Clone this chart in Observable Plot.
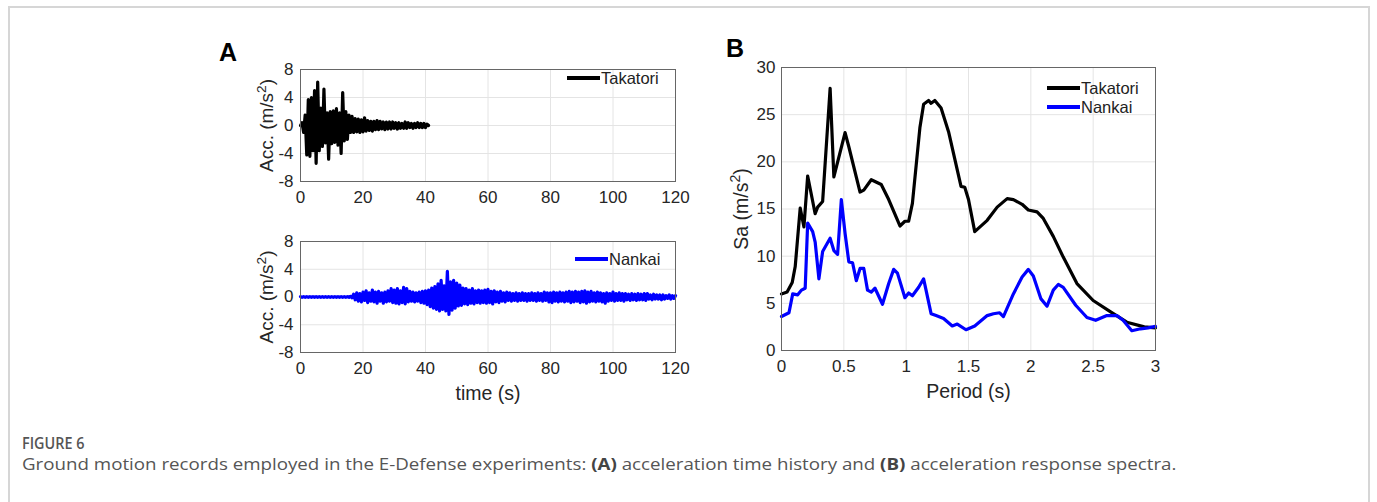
<!DOCTYPE html>
<html><head><meta charset="utf-8">
<script src="https://cdn.jsdelivr.net/npm/d3@7"></script>
<script src="https://cdn.jsdelivr.net/npm/@observablehq/plot@0.6"></script>
<style>
html,body{margin:0;padding:0;background:#fff;}
body{width:1377px;height:502px;overflow:hidden;position:relative;font-family:"Liberation Sans",Arial,sans-serif;}
#border{position:absolute;left:8px;top:6px;width:1362px;height:520px;border:2px solid #d6d6d6;box-sizing:border-box;}
.chart{position:absolute;}
.chart svg{overflow:visible;}
.panel{position:absolute;font-weight:bold;font-size:25px;line-height:1;color:#000;}
.leg{position:absolute;font-size:16.5px;color:#222;line-height:1;white-space:nowrap;}
.leg .sw{position:absolute;height:3.4px;width:33px;}
.leg .lt{position:absolute;transform:translateY(-50%);}
#cap1{position:absolute;left:22px;top:435px;font-family:"Open Sans",sans-serif;font-size:16px;line-height:17px;font-weight:600;color:#555;transform:scaleX(0.9);transform-origin:0 0;}
#cap2{position:absolute;left:22px;top:456px;font-family:"Open Sans",sans-serif;font-size:16px;line-height:17px;color:#555;white-space:nowrap;transform:scaleX(1.17);transform-origin:0 0;}
#cap2 b{font-weight:700;color:#444;}
</style></head>
<body>
<div id="border"></div>
<div class="panel" style="left:219px;top:40px;">A</div>
<div class="panel" style="left:726px;top:36px;">B</div>
<div id="charts"></div>
<div id="cap1">FIGURE 6</div>
<div id="cap2">Ground motion records employed in the E-Defense experiments: <b>(A)</b> acceleration time history and <b>(B)</b> acceleration response spectra.</div>
<script>
// ---- Data ----
const timeTicks = [0, 20, 40, 60, 80, 100, 120];
const accTicks = [-8, -4, 0, 4, 8];
const periodTicks = [0, 0.5, 1, 1.5, 2, 2.5, 3];
const saTicks = [0, 5, 10, 15, 20, 25, 30];
const seriesNames = ["Takatori", "Nankai"];
const seriesColors = ["#000000", "#0000ff"];

// Takatori acceleration, sampled every 0.5 s (alternating peaks), 0–41 s
const takatoriDt = 0.5;
const takatoriAcc = [
  0, 0.4, -1.0, 1.5, -4.2, 3.7, -4.4, 4.0, -3.6, 5.0,
  -5.4, 6.2, -3.6, 2.5, -3.0, 5.2, -2.5, 1.8, -4.8, 2.0,
  -2.6, 2.1, -2.4, 2.4, -2.8, 1.8, -4.0, 4.7, -2.2, 2.0,
  -2.0, 1.5, -1.0, 1.3, -1.0, 1.0, -0.9, 0.9, -1.0, 0.8,
  -0.9, 1.1, -0.8, 0.7, -0.7, 0.6, -0.8, 0.6, -0.6, 0.7,
  -0.6, 0.6, -0.5, 0.5, -0.6, 0.5, -0.5, 0.5, -0.5, 0.5,
  -0.4, 0.4, -0.5, 0.4, -0.4, 0.3, -0.4, 0.5, -0.4, 0.4,
  -0.3, 0.3, -0.4, 0.3, -0.3, 0.4, -0.3, 0.3, -0.3, 0.3,
  -0.3, 0.2, 0
];

// Nankai acceleration: positive and negative peaks per second, 0–120 s
const nankaiDt = 1;
const nankaiUpper = [
  0.05,0.05,0.05,0.05,0.05,0.05,0.05,0.05,0.05,0.05,
  0.05,0.05,0.05,0.05,0.05,0.05,0.1,0.4,0.6,0.5,
  0.7,0.9,0.6,1.0,0.7,0.8,0.6,0.7,0.9,1.2,
  1.0,1.2,0.9,1.4,1.2,0.8,0.7,0.6,0.7,0.8,
  0.9,1.0,1.3,1.5,1.9,2.4,1.6,3.7,2.2,2.4,
  2.0,1.7,1.3,1.2,1.0,1.2,0.9,1.0,0.9,1.0,
  1.1,0.8,0.9,0.7,0.8,0.6,0.7,0.6,0.5,0.6,
  0.5,0.6,0.5,0.5,0.6,0.5,0.6,0.5,0.7,0.6,
  0.6,0.7,0.6,0.7,0.6,0.7,0.8,0.7,0.8,0.7,
  0.8,0.9,0.7,0.8,0.6,0.7,0.6,0.5,0.6,0.5,
  0.7,0.5,0.6,0.5,0.5,0.4,0.5,0.4,0.5,0.4,
  0.5,0.5,0.3,0.4,0.3,0.3,0.3,0.2,0.3,0.2,
  0.2
];
const nankaiLower = [
  -0.05,-0.05,-0.05,-0.05,-0.05,-0.05,-0.05,-0.05,-0.05,-0.05,
  -0.05,-0.05,-0.05,-0.05,-0.05,-0.05,-0.1,-0.4,-0.6,-0.7,
  -0.5,-0.8,-0.6,-0.7,-0.9,-0.6,-0.9,-0.7,-0.6,-0.8,
  -0.9,-1.0,-0.8,-1.0,-0.7,-0.6,-0.7,-0.6,-0.8,-0.9,
  -1.1,-1.4,-1.6,-1.8,-2.0,-1.8,-2.0,-2.5,-1.9,-1.6,
  -1.3,-1.2,-1.0,-1.1,-0.9,-1.0,-0.8,-0.9,-0.8,-0.9,
  -0.8,-1.0,-0.7,-0.8,-0.6,-0.7,-0.5,-0.6,-0.5,-0.6,
  -0.5,-0.5,-0.6,-0.5,-0.5,-0.6,-0.5,-0.6,-0.5,-0.7,
  -0.8,-0.6,-0.7,-0.6,-0.7,-0.6,-0.8,-0.7,-0.6,-0.8,
  -0.7,-0.9,-0.7,-0.6,-0.7,-0.6,-0.7,-0.9,-0.6,-0.5,
  -0.6,-0.5,-0.5,-0.6,-0.4,-0.5,-0.4,-0.5,-0.4,-0.4,
  -0.5,-0.3,-0.4,-0.3,-0.3,-0.4,-0.3,-0.2,-0.3,-0.2,
  -0.2
];

// Acceleration response spectra
const takatoriPeriod = [0,0.045,0.086,0.11,0.15,0.18,0.21,0.27,0.29,0.33,0.39,0.42,0.51,0.54,0.63,0.66,0.72,0.80,0.86,0.95,0.99,1.02,1.05,1.11,1.14,1.18,1.20,1.23,1.28,1.34,1.44,1.47,1.50,1.55,1.65,1.73,1.81,1.86,1.93,1.98,2.05,2.10,2.18,2.26,2.37,2.50,2.64,2.77,2.91,3.0];
const takatoriSa = [6.0,6.2,7.2,8.9,15.1,13.1,18.5,14.5,15.2,15.8,27.8,18.4,23.1,21.6,16.8,17.0,18.1,17.6,16.0,13.2,13.7,13.7,15.6,23.6,26.1,26.5,26.2,26.5,25.7,23.2,17.4,17.3,16.0,12.6,13.8,15.2,16.1,16.0,15.5,14.9,14.7,14.0,12.1,9.9,7.1,5.3,4.1,3.0,2.5,2.4];
const nankaiPeriod = [0,0.06,0.09,0.13,0.16,0.19,0.21,0.25,0.27,0.30,0.33,0.39,0.42,0.45,0.48,0.51,0.54,0.57,0.60,0.63,0.66,0.69,0.72,0.75,0.81,0.86,0.90,0.93,0.99,1.02,1.05,1.10,1.14,1.20,1.24,1.30,1.37,1.41,1.48,1.55,1.65,1.70,1.75,1.78,1.86,1.93,1.98,2.02,2.08,2.13,2.18,2.22,2.26,2.36,2.45,2.52,2.61,2.69,2.74,2.81,2.88,2.94,3.0];
const nankaiSa = [3.6,4.0,6.0,5.9,6.4,6.6,13.5,12.6,11.5,7.6,10.5,11.9,10.6,10.2,16.0,12.4,9.4,9.3,7.4,8.7,8.7,6.4,6.2,6.6,4.9,7.1,8.6,8.2,5.6,6.1,5.8,6.7,7.6,3.9,3.7,3.4,2.6,2.8,2.2,2.6,3.7,3.9,4.0,3.6,6.0,7.8,8.6,7.9,5.5,4.7,6.4,7.0,6.7,4.8,3.5,3.2,3.7,3.7,3.2,2.1,2.3,2.4,2.55];

// ---- Build tables ----
const takatoriHist = takatoriAcc.map((a, i) => ({t: i * takatoriDt, a}));
const nankaiHist = [];
nankaiUpper.forEach((u, i) => {
  nankaiHist.push({t: i * nankaiDt, a: u});
  if (i < nankaiUpper.length - 1) nankaiHist.push({t: (i + 0.5) * nankaiDt, a: nankaiLower[i]});
});
const spectra = [
  ...takatoriPeriod.map((p, i) => ({series: seriesNames[0], p, sa: takatoriSa[i]})),
  ...nankaiPeriod.map((p, i) => ({series: seriesNames[1], p, sa: nankaiSa[i]}))
];

const FONT = '"Liberation Sans", Arial, sans-serif';
const GRID = "#e4e4e4";
const AXC = "#262626";
const fmt = d => String(d);

function timePlot(data, color, showXLabel, h, mt, mb) {
  return Plot.plot({
    width: 500, height: h,
    marginLeft: 100, marginRight: 25, marginTop: mt, marginBottom: mb,
    style: {fontFamily: FONT, fontSize: "17px", color: AXC, background: "transparent", overflow: "visible"},
    x: {domain: [0, 120]},
    y: {domain: [-8, 8]},
    marks: [
      Plot.gridX(timeTicks, {stroke: GRID, strokeOpacity: 1}),
      Plot.gridY(accTicks, {stroke: GRID, strokeOpacity: 1}),
      Plot.line(data, {x: "t", y: "a", stroke: color, strokeWidth: 3.2, strokeLinejoin: "round"}),
      Plot.frame({stroke: "#666"}),
      Plot.axisX(timeTicks, {tickSize: 0, tickPadding: 9, label: null, tickFormat: fmt, fontSize: 17}),
      Plot.axisY(accTicks, {tickSize: 0, tickPadding: 7, label: null, tickFormat: fmt, fontSize: 17}),
      Plot.text(["Acc. (m/s²)"], {frameAnchor: "left", dx: -34, rotate: -90, textAnchor: "middle", lineAnchor: "middle", fontSize: 19, fill: AXC}),
      ...(showXLabel ? [Plot.text(["time (s)"], {frameAnchor: "bottom", dy: 41, textAnchor: "middle", lineAnchor: "middle", fontSize: 19.5, fill: AXC})] : [])
    ]
  });
}

// render "²" as a raised, larger superscript like the original
function superscripts(svg) {
  svg.querySelectorAll("text").forEach(t => {
    if (!t.textContent.includes("²")) return;
    const [a, b] = t.textContent.split("²");
    const ns = "http://www.w3.org/2000/svg";
    const target = t.querySelector("tspan") || t;
    target.textContent = "";
    const s1 = document.createElementNS(ns, "tspan"); s1.textContent = a;
    const s2 = document.createElementNS(ns, "tspan"); s2.textContent = "2";
    s2.setAttribute("baseline-shift", "super"); s2.setAttribute("font-size", "72%");
    const s3 = document.createElementNS(ns, "tspan"); s3.textContent = b;
    target.append(s1, s2, s3);
  });
  return svg;
}

function place(el, left, top) {
  const d = document.createElement("div");
  d.className = "chart";
  d.style.left = left + "px";
  d.style.top = top + "px";
  d.appendChild(superscripts(el));
  document.getElementById("charts").appendChild(d);
}

place(timePlot(takatoriHist, seriesColors[0], false, 185, 39, 34), 200, 30);
place(timePlot(nankaiHist, seriesColors[1], true, 210, 41, 58), 200, 200);

const specPlot = Plot.plot({
  width: 480, height: 380,
  marginLeft: 81, marginRight: 25, marginTop: 37, marginBottom: 60,
  style: {fontFamily: FONT, fontSize: "17px", color: AXC, background: "transparent", overflow: "visible"},
  x: {domain: [0, 3]},
  y: {domain: [0, 30]},
  color: {domain: seriesNames, range: seriesColors},
  marks: [
    Plot.gridX(periodTicks, {stroke: GRID, strokeOpacity: 1}),
    Plot.gridY(saTicks, {stroke: GRID, strokeOpacity: 1}),
    Plot.line(spectra, {x: "p", y: "sa", z: "series", stroke: "series", strokeWidth: 3.2, strokeLinejoin: "round"}),
    Plot.frame({stroke: "#666"}),
    Plot.axisX(periodTicks, {tickSize: 0, tickPadding: 9, label: null, tickFormat: fmt, fontSize: 17}),
    Plot.axisY(saTicks, {tickSize: 0, tickPadding: 6, label: null, tickFormat: fmt, fontSize: 17}),
    Plot.text(["Sa (m/s²)"], {frameAnchor: "left", dx: -40, rotate: -90, textAnchor: "middle", lineAnchor: "middle", fontSize: 19.5, fill: AXC}),
    Plot.text(["Period (s)"], {frameAnchor: "bottom", dy: 41, textAnchor: "middle", lineAnchor: "middle", fontSize: 19.5, fill: AXC})
  ]
});
place(specPlot, 700, 30);

// ---- Legends ----
function legend(items, left, top, gap) {
  items.forEach((it, k) => {
    const d = document.createElement("div");
    d.className = "leg";
    d.style.left = left + "px";
    d.style.top = (top + k * gap) + "px";
    d.innerHTML = `<span class="sw" style="background:${it.color};left:0;top:-1.7px"></span><span class="lt" style="left:34px;top:0">${it.name}</span>`;
    document.body.appendChild(d);
  });
}
legend([{name: seriesNames[0], color: seriesColors[0]}], 567, 78, 0);
legend([{name: seriesNames[1], color: seriesColors[1]}], 575, 259, 0);
legend(seriesNames.map((n, i) => ({name: n, color: seriesColors[i]})), 1047, 88, 19);
</script>
</body></html>
